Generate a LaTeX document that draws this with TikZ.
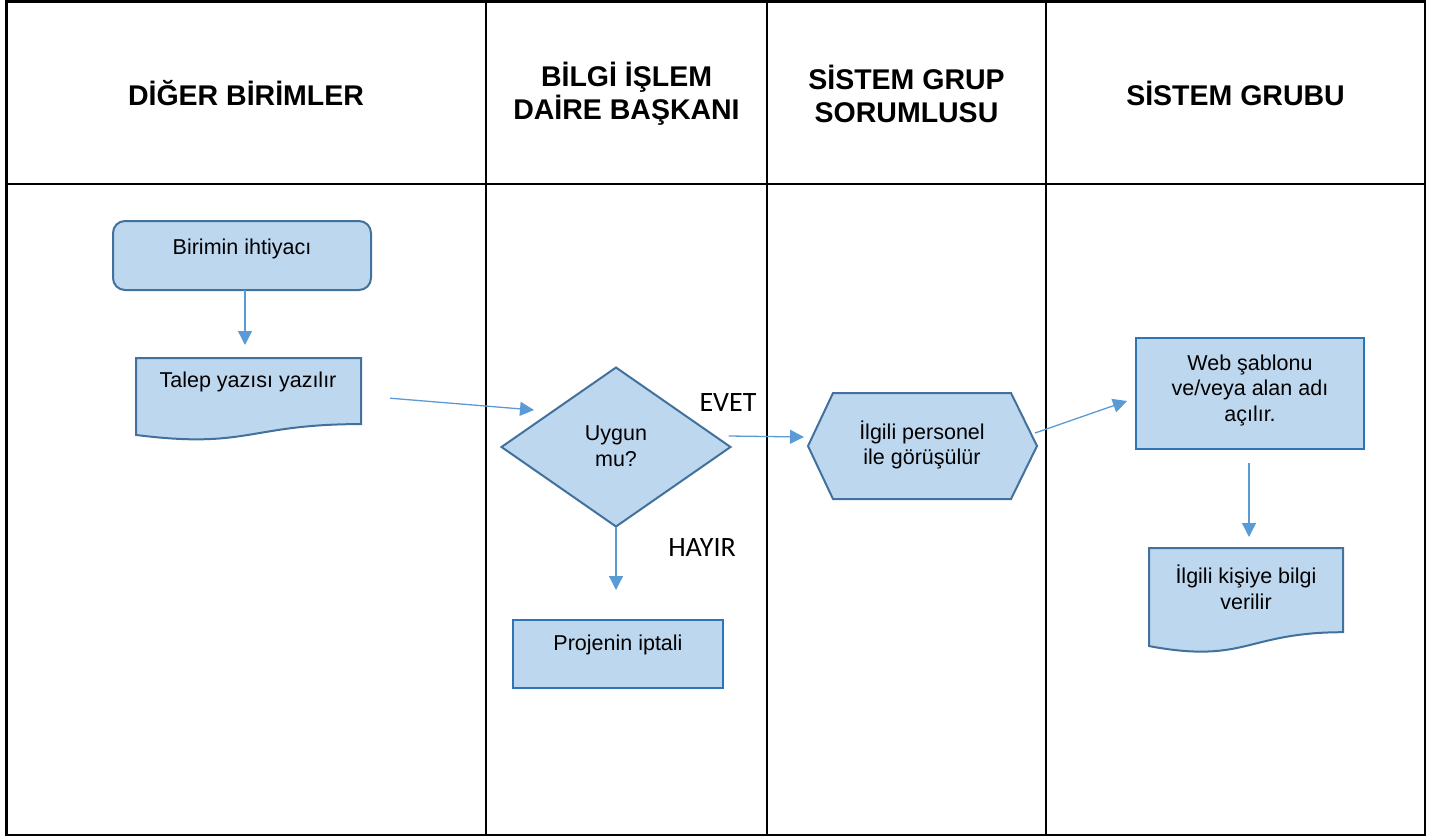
\documentclass[tikz,border=0pt]{standalone}
\usepackage{fontspec}
\setmainfont{Liberation Sans}
\newfontfamily\calibri{Carlito}
\usetikzlibrary{shapes.geometric,arrows.meta,calc}
\definecolor{shfill}{RGB}{189,215,238}
\definecolor{shdraw}{RGB}{65,113,156}
\definecolor{shdrawb}{RGB}{46,117,182}
\definecolor{arrc}{RGB}{91,155,213}
\begin{document}
\begin{tikzpicture}[x=1pt,y=-1pt,
  frame/.style={draw=black,line width=2.2pt},
  lane/.style={draw=black,line width=2pt},
  hdr/.style={font=\fontsize{28.5}{32.5}\selectfont\bfseries,align=center,inner sep=0pt},
  txt/.style={font=\fontsize{21.5}{25.5}\selectfont,align=center,inner sep=0pt},
  yn/.style={font=\calibri\fontsize{28}{32}\selectfont,inner sep=0pt},
  shp/.style={draw=shdraw,fill=shfill,line width=2pt},
  shpb/.style={draw=shdrawb,fill=shfill,line width=2pt},
  box/.style={inner sep=0pt,outer sep=0pt},
  arr/.style={draw=arrc,line width=1.3pt,-{Triangle[length=14pt,width=14pt]}},
]
\useasboundingbox (0,0) rectangle (1443,840);
% frame and lanes
\draw[frame] (6.5,1.5) rectangle (1425,835);
\draw[lane] (6.5,184) -- (1425,184);
\draw[lane] (486,1.5) -- (486,835);
\draw[lane] (767,1.5) -- (767,835);
\draw[lane] (1046,1.5) -- (1046,835);
% headers
\node[hdr] (h1) at (246,93) {DİĞER BİRİMLER};
\node[hdr] (h2) at (626.5,94) {BİLGİ İŞLEM\\DAİRE BAŞKANI};
\node[hdr] (h3) at (906.5,94) {SİSTEM GRUP\\SORUMLUSU};
\node[hdr] (h4) at (1235.5,93) {SİSTEM GRUBU};
% shapes
\node[box,shp,rounded corners=12pt,minimum width=258pt,minimum height=69pt] (b1) at (242,255.5) {};
\node[txt] (t1) at (242,249) {Birimin ihtiyacı};

\node[box,minimum width=225pt,minimum height=82.4pt] (talep) at (248.5,399.2) {};
\draw[shp] (talep.north west) -- (talep.north east) -- ($(talep.north east)!0.802!(talep.south east)$)
  .. controls ($(talep.north)!0.802!(talep.south)$) and ($(talep.north)!1.107!(talep.south)$) ..
  ($(talep.north west)!0.934!(talep.south west)$) -- cycle;
\node[txt] (t2) at (248,382) {Talep yazısı yazılır};

\node[box,shp,diamond,minimum width=229pt,minimum height=159pt] (dia) at (616,447) {};
\node[txt] (t3) at (616,446) {Uygun\\mu?};

\node[box,shpb,minimum width=210pt,minimum height=68pt] (proj) at (618,654) {};
\node[txt] (t4) at (618,645) {Projenin iptali};

\node[box,minimum width=229pt,minimum height=106pt] (hex) at (922.5,446) {};
\draw[shp] (hex.west) -- ($(hex.north west)+(25,0)$) -- ($(hex.north east)+(-26,0)$) -- (hex.east)
  -- ($(hex.south east)+(-26,0)$) -- ($(hex.south west)+(25,0)$) -- cycle;
\node[txt] (t5) at (922,445) {İlgili personel\\ile görüşülür};

\node[box,shpb,minimum width=228pt,minimum height=111pt] (web) at (1250,393.5) {};
\node[txt] (t6) at (1250,390) {Web şablonu\\ve/veya alan adı\\açılır.};

\node[box,minimum width=194pt,minimum height=105pt] (bilgi) at (1246,600.5) {};
\draw[shp] (bilgi.north west) -- (bilgi.north east) -- ($(bilgi.north east)!0.802!(bilgi.south east)$)
  .. controls ($(bilgi.north)!0.802!(bilgi.south)$) and ($(bilgi.north)!1.107!(bilgi.south)$) ..
  ($(bilgi.north west)!0.934!(bilgi.south west)$) -- cycle;
\node[txt] (t7) at (1246,587.5) {İlgili kişiye bilgi\\verilir};

% labels
\node[yn] (evet) at (728,403) {EVET};
\node[yn] (hayir) at (702,548) {HAYIR};

% connectors
\draw[arr] ($(b1.south)+(3,0)$) -- ($(b1.south |- talep.north)+(3,-13)$);
\draw[arr] ($(talep.east)+(29,-1)$) -- ($(dia.center)+(-82,-37)$);
\draw[arr] ($(dia.east)+(-2,-11)$) -- ($(hex.west)+(-4,-9)$);
\draw[arr] (dia.south) -- ($(proj.north)+(-2,-30)$);
\draw[arr] ($(hex.east)+(-2,-13)$) -- ($(web.west)+(-9,7.5)$);
\draw[arr] ($(web.south)+(-1,14)$) -- ($(bilgi.north)+(3,-11)$);
\end{tikzpicture}
\end{document}
